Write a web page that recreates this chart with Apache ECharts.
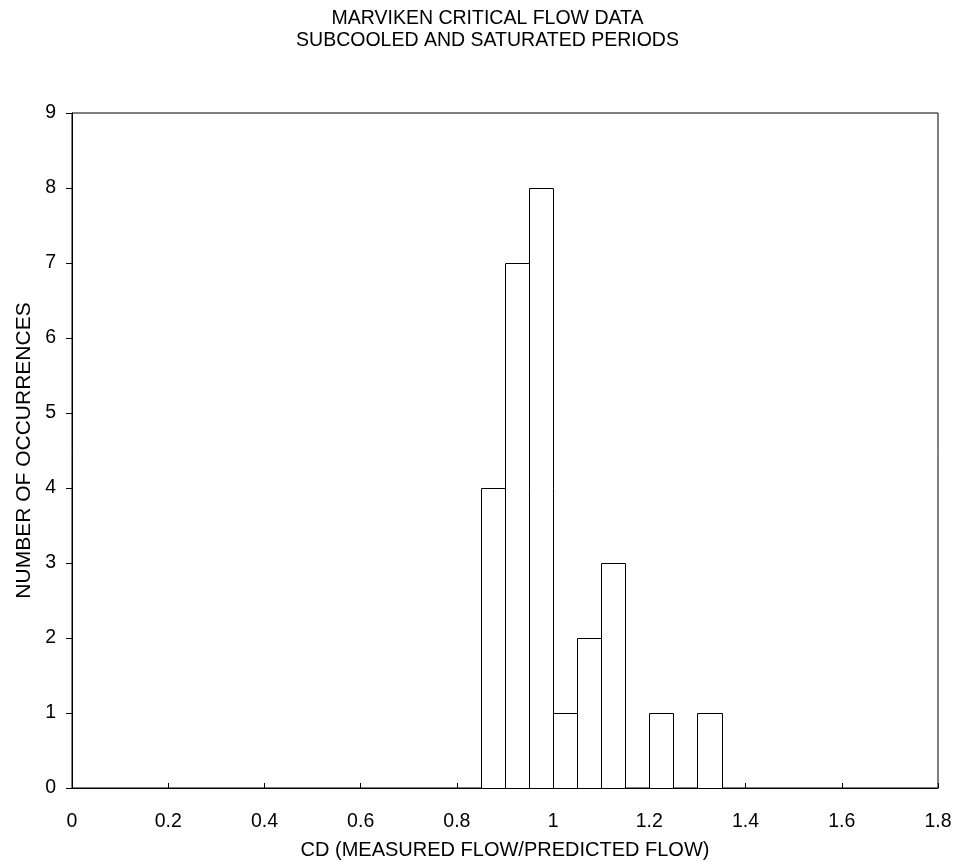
<!DOCTYPE html>
<html>
<head>
<meta charset="utf-8">
<script src="https://cdn.jsdelivr.net/npm/echarts@6/dist/echarts.min.js"></script>
<style>html,body{margin:0;padding:0;background:#fff;}#c{width:968px;height:866px;}</style>
</head>
<body>
<div id="c"></div>
<script>
const titleLines = ['MARVIKEN CRITICAL FLOW DATA', 'SUBCOOLED AND SATURATED PERIODS'];
const xAxisName = 'CD (MEASURED FLOW/PREDICTED FLOW)';
const yAxisName = 'NUMBER OF OCCURRENCES';
const binStarts = [0.85, 0.90, 0.95, 1.00, 1.05, 1.10, 1.20, 1.30];
const binWidth = 0.05;
const counts = [4, 7, 8, 1, 2, 3, 1, 1];

const data = binStarts.map((s, i) => [s, s + binWidth, counts[i]]);
const font = 'Liberation Sans, Arial, sans-serif';
const fs = 19.5;
const chart = echarts.init(document.getElementById('c'));
chart.setOption({
  animation: false,
  backgroundColor: '#fff',
  title: {
    text: titleLines.join('\n'),
    left: 482.5, top: 3, textAlign: 'center',
    textStyle: { fontFamily: font, fontSize: fs, fontWeight: 'normal', color: '#000', lineHeight: 22 }
  },
  grid: { left: 72, right: 30, top: 113, bottom: 78, show: true, borderColor: '#000', borderWidth: 1, backgroundColor: 'transparent' },
  xAxis: {
    type: 'value', min: 0, max: 1.8, interval: 0.2,
    name: xAxisName, nameLocation: 'middle', nameGap: 52,
    nameTextStyle: { fontFamily: font, fontSize: 20, color: '#000' },
    axisLine: { lineStyle: { color: '#000', width: 1 } },
    axisTick: { inside: true, length: 5, lineStyle: { color: '#000' } },
    axisLabel: { fontFamily: font, fontSize: fs, color: '#000', margin: 24 },
    splitLine: { show: false }
  },
  yAxis: {
    type: 'value', min: 0, max: 9, interval: 1,
    name: yAxisName, nameLocation: 'middle', nameGap: 27,
    nameTextStyle: { fontFamily: font, fontSize: 21, color: '#000' },
    axisLine: { show: true, lineStyle: { color: '#000', width: 1 } },
    axisTick: { show: true, inside: false, length: 6, lineStyle: { color: '#000' } },
    axisLabel: { fontFamily: font, fontSize: fs, color: '#000', margin: 16 },
    splitLine: { show: false }
  },
  series: [{
    type: 'custom',
    data: data,
    encode: { x: [0, 1], y: 2 },
    renderItem: function (params, api) {
      const p0 = api.coord([api.value(0), api.value(2)]);
      const p1 = api.coord([api.value(1), 0]);
      const x0 = Math.round(p0[0]) + 0.5, x1 = Math.round(p1[0]) + 0.5;
      const y0 = Math.round(p0[1]) + 0.5, y1 = Math.round(p1[1]) + 0.5;
      return {
        type: 'rect',
        shape: { x: x0, y: y0, width: x1 - x0, height: y1 - y0 },
        style: { fill: '#fff', stroke: '#000', lineWidth: 1 }
      };
    }
  }]
});
</script>
</body>
</html>
